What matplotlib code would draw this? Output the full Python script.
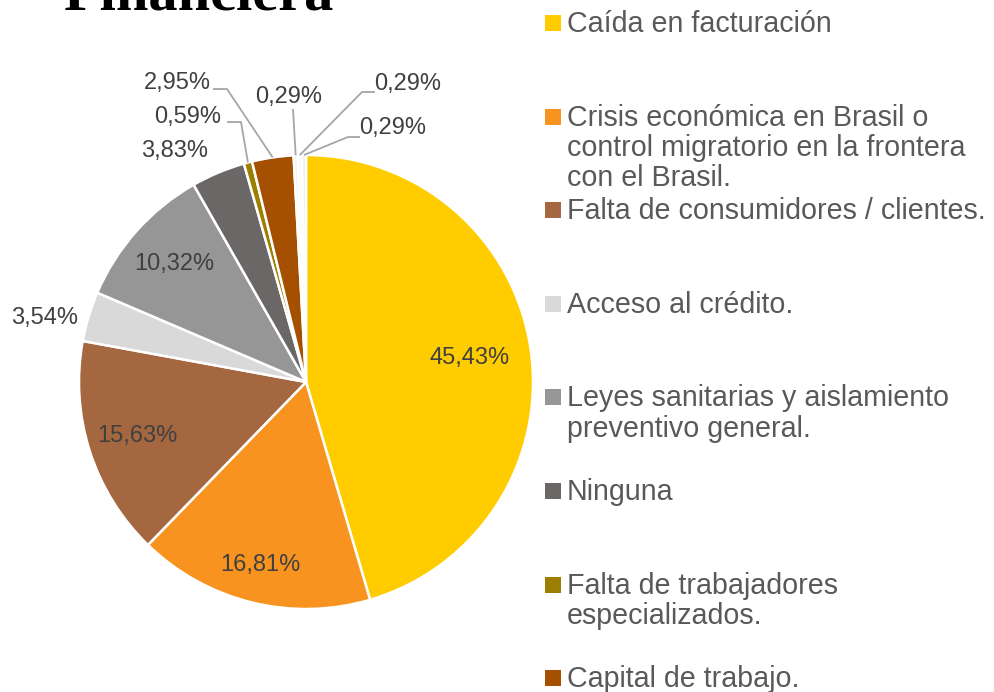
import numpy as np
import matplotlib
matplotlib.use('Agg')
import matplotlib.pyplot as plt
from matplotlib.patches import Rectangle

# datos del gráfico
valores = [45.43, 16.81, 15.63, 3.54, 10.32, 3.83, 0.59, 2.95, 0.29, 0.29, 0.29]
etiquetas_valor = ['45,43%', '16,81%', '15,63%', '3,54%', '10,32%', '3,83%',
                   '0,59%', '2,95%', '0,29%', '0,29%', '0,29%']
categorias = ['Caída en facturación',
              'Crisis económica en Brasil o\ncontrol migratorio en la frontera\ncon el Brasil.',
              'Falta de consumidores / clientes.',
              'Acceso al crédito.',
              'Leyes sanitarias y aislamiento\npreventivo general.',
              'Ninguna',
              'Falta de trabajadores\nespecializados.',
              'Capital de trabajo.']
colores = ['#FFCC00', '#F7931E', '#A5673F', '#D9D9D9', '#969696', '#6B6767',
           '#9C7F00', '#A54F00', '#F2F2F2', '#FAFAFA', '#EDEDED']

W, H = 994, 692
fig = plt.figure(figsize=(W / 100, H / 100), dpi=100)
ax = fig.add_axes([0, 0, 1, 1])
ax.set_xlim(0, W)
ax.set_ylim(0, H)
ax.set_aspect('equal')
ax.axis('off')

cx, cy, R = 306, H - 382, 227
wedges, _ = ax.pie(valores, colors=colores, startangle=90, counterclock=False,
                   center=(cx, cy), radius=R,
                   wedgeprops=dict(edgecolor='white', linewidth=1.8))
ax.set_xlim(0, W)
ax.set_ylim(0, H)

fuente = 'Liberation Sans'
c_lbl = '#404040'

# etiquetas internas
internas = {0: 0.73, 1: 0.83, 2: 0.78, 4: 0.78}
for i, f in internas.items():
    w = wedges[i]
    ang = np.deg2rad((w.theta1 + w.theta2) / 2)
    ax.text(cx + f * R * np.cos(ang), cy + f * R * np.sin(ang), etiquetas_valor[i],
            ha='center', va='center', fontsize=17, color=c_lbl, family=fuente)

# etiquetas externas (posición en px desde arriba) y codos de líneas guía
externas = {3: (45, 318, None), 5: (175, 151, None),
            6: (188, 117, [(241, 122)]),
            7: (177, 83, [(227, 89)]),
            8: (289, 97, [(293, 109)]),
            9: (408, 84, [(362, 92), (375, 92)]),
            10: (393, 128, [(348, 137), (360, 137)])}
for i, (x, y, codo) in externas.items():
    ax.text(x, H - y, etiquetas_valor[i], ha='center', va='center',
            fontsize=17, color=c_lbl, family=fuente)
    if codo:
        w = wedges[i]
        ang = np.deg2rad((w.theta1 + w.theta2) / 2)
        px = [cx + R * np.cos(ang)] + [p[0] for p in codo]
        py = [cy + R * np.sin(ang)] + [H - p[1] for p in codo]
        if i in (6, 7):
            px.append(px[-1] - 14)
            py.append(py[-1])
        ax.plot(px, py, color='#A6A6A6', lw=1.3, solid_capstyle='butt')

# leyenda manual
for i, nombre in enumerate(categorias):
    yc = H - (23 + i * 93.6)
    ax.add_patch(Rectangle((545, yc - 8), 16, 16, color=colores[i], lw=0))
    ax.text(567, yc + 13, nombre, ha='left', va='top', fontsize=20.6,
            color='#595959', family=fuente, linespacing=1.1)

# título (cortado arriba)
ax.text(199, H - 10, 'Financiera', ha='center', va='baseline', fontsize=42,
        fontweight='bold', family='Liberation Serif', color='black')

fig.savefig('out.png', dpi=100)
